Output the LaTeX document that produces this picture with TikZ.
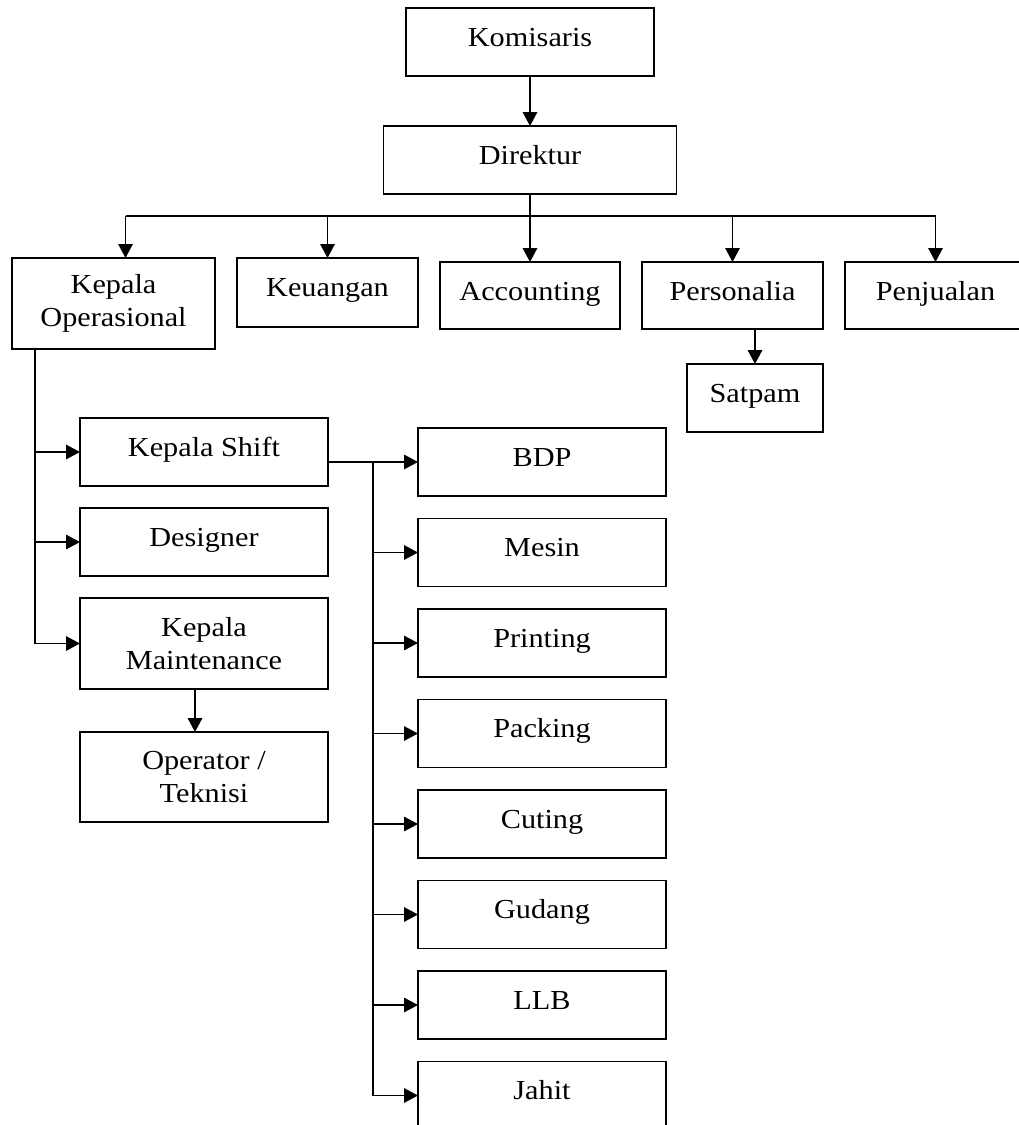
\documentclass[tikz,border=0pt]{standalone}
\usepackage{fontspec}
\setmainfont{Liberation Serif}[FakeStretch=1.1]
\usetikzlibrary{positioning,arrows.meta}

\begin{document}
\begin{tikzpicture}[unit/.style={rectangle, draw, line width=1.8pt, inner sep=0pt, outer sep=0pt, align=center, font=\fontsize{27.5}{33}\selectfont, minimum width=248pt}, single/.style={unit, text height=38pt, text depth=30pt}, double/.style={unit, minimum height=91pt}, row/.style={single, minimum width=181pt}, arr/.style={-{Triangle[length=14pt, width=14.5pt]}, line width=1.5pt}, line/.style={line width=1.5pt}]
      \useasboundingbox (0,0) rectangle (1019pt,-1125pt);

      \node [single] (komisaris) at (530pt,-42pt) {Komisaris};

      \node [single, minimum width=293pt, below = 50pt of komisaris] (direktur) {Direktur};

      \node [row, minimum width=180pt, text depth=29pt, below = 68pt of direktur] (accounting) {Accounting};

      \node [row, text depth=31pt, left = 22pt of accounting.north west, anchor=north east, yshift=4pt] (keuangan) {Keuangan};

      \node [double, minimum width=203pt, left = 22pt of keuangan.north west, anchor=north east] (kepOp) {Kepala\\Operasional};

      \node [row, text depth=29pt, right = 22pt of accounting] (personalia) {Personalia};

      \node [row, text depth=29pt, right = 22pt of personalia] (penjualan) {Penjualan};

      \node [single, minimum width=136pt, below = 35pt of personalia.south east, anchor=north east] (satpam) {Satpam};

      \node [single, below right = 69pt and 68pt of kepOp.south west] (kepShift) {Kepala Shift};

      \node [single, below = 22pt of kepShift] (designer) {Designer};

      \node [double, below = 22pt of designer] (kepMaint) {Kepala\\Maintenance};

      \node [double, minimum height=90pt, below = 43pt of kepMaint] (operator) {Operator /\\Teknisi};

      \node [single, below right = 10pt and 90pt of kepShift.north east] (bdp) {BDP};

      \node [single, below = 22.5pt of bdp] (mesin) {Mesin};

      \node [single, below = 22.5pt of mesin] (printing) {Printing};

      \node [single, below = 22.5pt of printing] (packing) {Packing};

      \node [single, below = 22.5pt of packing] (cuting) {Cuting};

      \node [single, below = 22.5pt of cuting] (gudang) {Gudang};

      \node [single, below = 22.5pt of gudang] (llb) {LLB};

      \node [single, below = 22.5pt of llb] (jahit) {Jahit};

      \coordinate [below = 22pt of direktur.south] (hub);
      \coordinate (opSpine) at ([xshift=23pt]kepOp.south west);
      \coordinate (shiftSpine) at ([xshift=45pt]kepShift.east |- bdp);

      \path[arr] (komisaris) edge (direktur);

      \path[arr] (direktur) edge (accounting);

      \draw[line] ([xshift=12pt]hub -| kepOp.north) -- (hub -| penjualan.north);

      \draw[arr] ([xshift=12pt]hub -| kepOp.north) -- ([xshift=12pt]kepOp.north);

      \draw[arr] (hub -| keuangan.north) -- (keuangan.north);

      \draw[arr] (hub -| personalia.north) -- (personalia.north);

      \draw[arr] (hub -| penjualan.north) -- (penjualan.north);

      \draw[arr] (satpam.north |- personalia.south) -- (satpam.north);

      \draw[arr] (opSpine) |- (kepMaint.west);

      \draw[arr] (opSpine |- kepShift) -- (kepShift.west);

      \draw[arr] (opSpine |- designer) -- (designer.west);

      \draw[arr] ([xshift=-9pt]kepMaint.south) -- ([xshift=-9pt]operator.north);

      \draw[arr] (kepShift.east |- bdp) -- (bdp.west);

      \draw[arr] (shiftSpine) |- (jahit.west);

      \draw[arr] (shiftSpine |- mesin) -- (mesin.west);

      \draw[arr] (shiftSpine |- printing) -- (printing.west);

      \draw[arr] (shiftSpine |- packing) -- (packing.west);

      \draw[arr] (shiftSpine |- cuting) -- (cuting.west);

      \draw[arr] (shiftSpine |- gudang) -- (gudang.west);

      \draw[arr] (shiftSpine |- llb) -- (llb.west);
    \end{tikzpicture}
\end{document}
